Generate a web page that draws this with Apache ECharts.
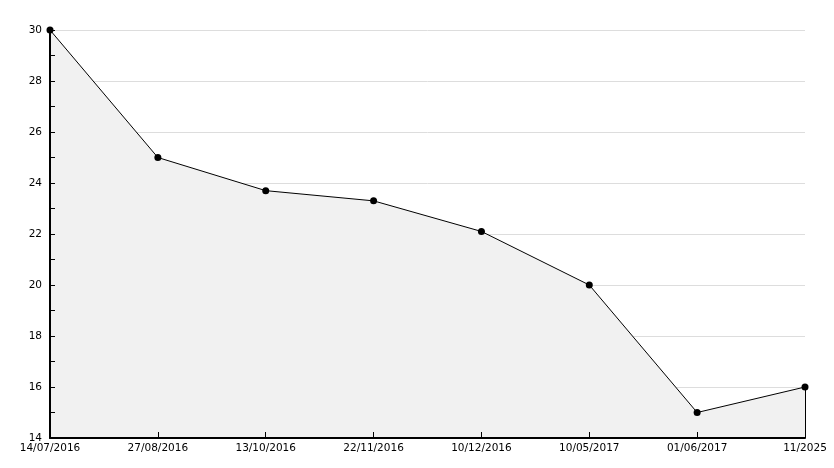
<!DOCTYPE html>
<html><head><meta charset="utf-8">
<script src="https://cdn.jsdelivr.net/npm/echarts@6/dist/echarts.min.js"></script>
<style>html,body{margin:0;padding:0;background:#fff}#c{width:834px;height:468px}</style>
</head><body><div id="c"></div>
<script>
var categories = ["14/07/2016","27/08/2016","13/10/2016","22/11/2016","10/12/2016","10/05/2017","01/06/2017","11/2025"];
var values = [30, 25, 23.7, 23.3, 22.1, 20, 15, 16];
var yMin = 14, yMax = 30, yStep = 2;

var chart = echarts.init(document.getElementById('c'));
var font = 'DejaVu Sans';
chart.setOption({
  animation: false,
  grid: {left: 50, right: 29, top: 30, bottom: 30},
  xAxis: {
    type: 'category', data: categories, boundaryGap: false, z: 10,
    axisLine: {lineStyle: {color: '#000', width: 2}},
    axisTick: {inside: true, length: 6, lineStyle: {color: '#000', width: 1}},
    axisLabel: {color: '#000', fontFamily: font, fontSize: 10.5, margin: 5, interval: 0},
    splitLine: {show: false}
  },
  yAxis: [{
    type: 'value', min: yMin, max: yMax, interval: yStep, z: 0,
    axisLine: {show: false}, axisTick: {show: false}, axisLabel: {show: false},
    splitLine: {show: true, lineStyle: {color: '#dddddd', width: 1}}
  }, {
    type: 'value', min: yMin, max: yMax, interval: yStep, z: 10, position: 'left',
    axisLine: {show: true, lineStyle: {color: '#000', width: 2}},
    axisTick: {show: true, inside: true, length: 5, lineStyle: {color: '#000'}},
    minorTick: {show: true, splitNumber: 2, length: 5, lineStyle: {color: '#000'}},
    axisLabel: {color: '#000', fontFamily: font, fontSize: 10.5, margin: 8},
    splitLine: {show: false}
  }],
  series: [{
    type: 'line', data: values, yAxisIndex: 0,
    symbol: 'circle', symbolSize: 7,
    itemStyle: {color: '#000'},
    lineStyle: {color: '#000', width: 1},
    areaStyle: {color: '#f1f1f1', opacity: 1},
    markLine: {
      silent: true, symbol: 'none', label: {show: false},
      lineStyle: {color: '#000', width: 1, type: 'solid'},
      data: [[{coord: [categories.length - 1, values[values.length - 1]]}, {coord: [categories.length - 1, yMin]}]]
    }
  }]
});
</script></body></html>
